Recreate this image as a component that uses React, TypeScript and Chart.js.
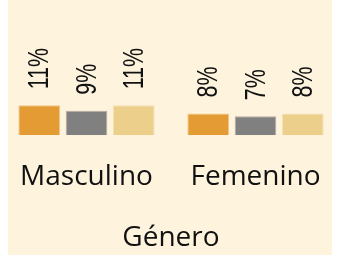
import React, { useEffect, useRef } from "react";
import { Chart, registerables } from "chart.js";

Chart.register(...registerables);

const categories = ["Masculino", "Femenino"];
const seriesNames = ["Serie 1", "Serie 2", "Serie 3"];
const series1 = [11, 8];
const series2 = [9, 7];
const series3 = [11, 8];
const axisTitle = "Género";

const colors = ["#e59b34", "#808080", "#ebcf8b"];
const borders = ["#f0c587", "#b3aca0", "#f3e0b3"];

const EXTRA = 64; // canvas extends above the page so the x axis may take > half the height

const labelPlugin = {
  id: "rotLabels",
  afterDatasetsDraw(chart: any) {
    const ctx = chart.ctx;
    ctx.save();
    ctx.fillStyle = "#111";
    ctx.font = "29px 'Liberation Sans'";
    ctx.textAlign = "left";
    ctx.textBaseline = "middle";
    chart.data.datasets.forEach((ds: any, i: number) => {
      const meta = chart.getDatasetMeta(i);
      meta.data.forEach((bar: any, j: number) => {
        const v = ds.data[j];
        ctx.save();
        ctx.translate(bar.x + 1, bar.y - 16);
        ctx.rotate(-Math.PI / 2);
        ctx.scale(0.74, 1);
        ctx.fillText(v + "%", 0, 0);
        ctx.restore();
      });
    });
    ctx.restore();
  },
};

export default function App() {
  const ref = useRef<HTMLCanvasElement>(null);
  useEffect(() => {
    const data = [series1, series2, series3];
    const chart = new Chart(ref.current!, {
      type: "bar",
      data: {
        labels: categories,
        datasets: data.map((d, i) => ({
          label: seriesNames[i],
          data: d,
          backgroundColor: colors[i],
          borderColor: borders[i],
          borderWidth: 1,
          categoryPercentage: 0.84,
          barPercentage: 0.88,
        })),
      },
      options: {
        animation: false,
        responsive: false,
        maintainAspectRatio: false,
        layout: { padding: { left: 2, right: 9, top: 0, bottom: 0 } },
        plugins: { legend: { display: false }, tooltip: { enabled: false } },
        scales: {
          y: { display: false, min: 0, max: 73 },
          x: {
            grid: {
              display: true,
              drawOnChartArea: false,
              drawTicks: true,
              tickLength: 25,
              color: "rgba(0,0,0,0)",
            },
            border: { display: false },
            ticks: {
              color: "#111",
              font: { family: "'Open Sans'", size: 28 },
              padding: 0,
            },
            title: {
              display: true,
              text: axisTitle,
              color: "#111",
              font: { family: "'Open Sans'", size: 28 },
              padding: { top: 27.5, bottom: 1 },
            },
          },
        },
      },
      plugins: [labelPlugin],
    });
    return () => chart.destroy();
  }, []);
  return (
    <>
      <div
        style={{
          position: "fixed",
          left: 8,
          top: 0,
          width: 324,
          height: 255,
          background: "#fef3dc",
        }}
      />
      <canvas
        ref={ref}
        width={349}
        height={256 + EXTRA}
        style={{
          position: "fixed",
          left: 0,
          top: -EXTRA,
          width: 349,
          height: 256 + EXTRA,
        }}
      />
    </>
  );
}
